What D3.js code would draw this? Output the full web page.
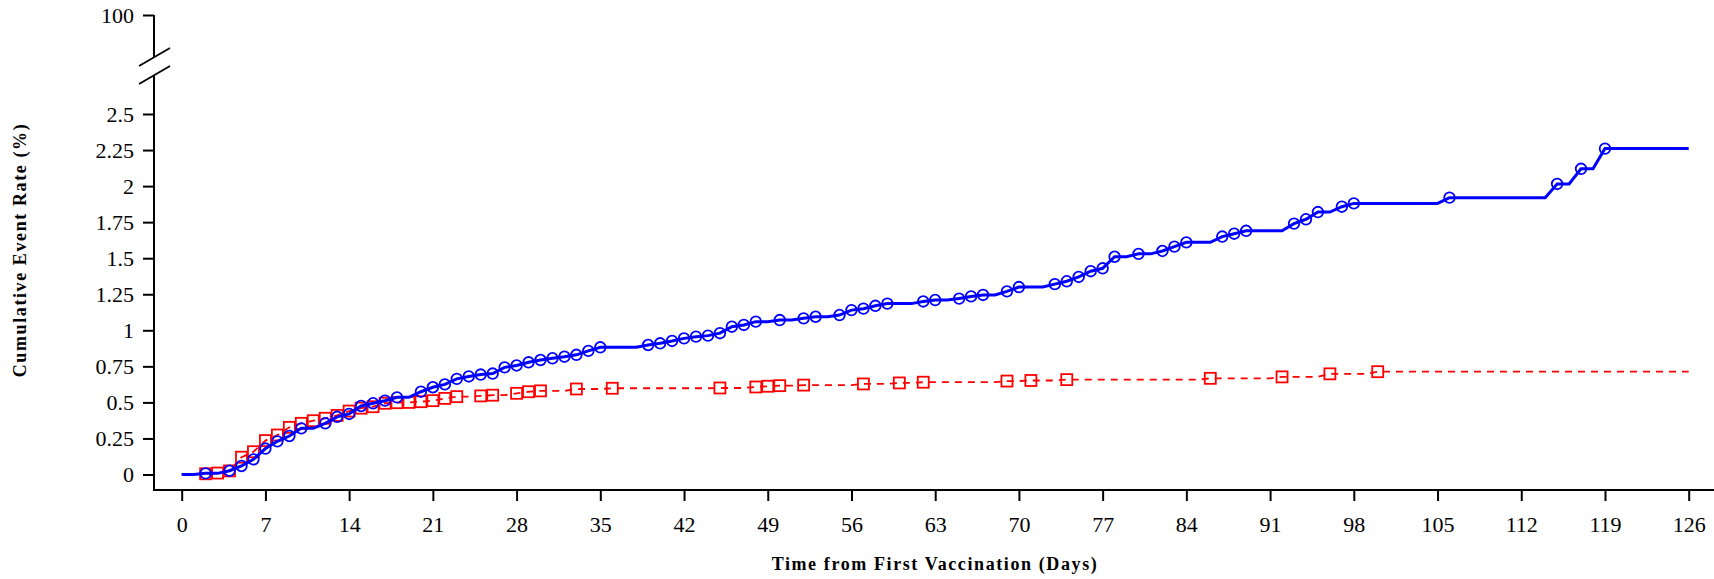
<!DOCTYPE html>
<html>
<head>
<meta charset="utf-8">
<script src="https://cdn.jsdelivr.net/npm/d3@7"></script>
<style>
    body { margin: 0; background: #fff; }
</style>
</head>
<body>
<div id="chart"></div>
<script>
// Set width and height
var svgWidth = 1714;
var svgHeight = 579;
var serif = "'Liberation Serif', 'Times New Roman', serif";

// Days of the events and cumulative rates (%) for the blue group.
var blueDays = [2, 4, 5, 6, 7, 8, 9, 10, 12, 13, 14, 15, 16, 17, 18, 20, 21, 22, 23, 24,
    25, 26, 27, 28, 29, 30, 31, 32, 33, 34, 35, 39, 40, 41, 42, 43, 44, 45, 46, 47,
    48, 50, 52, 53, 55, 56, 57, 58, 59, 62, 63, 65, 66, 67, 69, 70, 73, 74, 75, 76,
    77, 78, 80, 82, 83, 84, 87, 88, 89, 93, 94, 95, 97, 98, 106, 115, 117, 119];
var blueRates = [0.008, 0.026, 0.059, 0.105, 0.18, 0.23, 0.267, 0.32, 0.355, 0.40, 0.42, 0.475,
    0.494, 0.512, 0.535, 0.574, 0.605, 0.625, 0.663, 0.68, 0.693, 0.70, 0.743, 0.756,
    0.778, 0.794, 0.806, 0.817, 0.83, 0.857, 0.882, 0.898, 0.91, 0.926, 0.944, 0.956,
    0.963, 0.98, 1.025, 1.037, 1.06, 1.071, 1.083, 1.094, 1.106, 1.14, 1.15, 1.17,
    1.185, 1.20, 1.21, 1.22, 1.235, 1.245, 1.27, 1.30, 1.32, 1.34, 1.37, 1.41, 1.43,
    1.51, 1.53, 1.55, 1.58, 1.61, 1.65, 1.67, 1.69, 1.74, 1.77, 1.82, 1.857, 1.88,
    1.92, 2.015, 2.12, 2.26];

// Days of the events and cumulative rates (%) for the red group.
var redDays = [2, 3, 4, 5, 6, 7, 8, 9, 10, 11, 12, 13, 14, 15, 16, 17, 18, 19, 20, 21,
    22, 23, 25, 26, 28, 29, 30, 33, 36, 45, 48, 49, 50, 52, 57, 60, 62, 69, 71, 74,
    86, 92, 96, 100];
var redRates = [0.005, 0.01, 0.025, 0.12, 0.158, 0.235, 0.274, 0.327, 0.355, 0.373, 0.39,
    0.41, 0.44, 0.46, 0.47, 0.494, 0.498, 0.50, 0.505, 0.512, 0.528, 0.54, 0.545, 0.55,
    0.563, 0.574, 0.58, 0.593, 0.598, 0.60, 0.607, 0.612, 0.616, 0.62, 0.628, 0.635,
    0.64, 0.648, 0.652, 0.658, 0.667, 0.677, 0.698, 0.713];

// Last day of follow-up.
var endDay = 126;

// Tick values.
var xTicks = d3.range(0, 127, 7);
var yTicks = [0, 0.25, 0.5, 0.75, 1, 1.25, 1.5, 1.75, 2, 2.25, 2.5];
var yTopTicks = [100];

// Define margins.
var margin = {
    top: 15,
    right: 0,
    bottom: 89,
    left: 154
};
var chartWidth = svgWidth - margin.left - margin.right;
var chartHeight = svgHeight - margin.top - margin.bottom;

// Create the svg and the chart group.
var svg = d3.select("#chart")
    .append("svg")
    .attr("width", svgWidth)
    .attr("height", svgHeight);
var chartGroup = svg.append("g")
    .attr("transform", `translate(${margin.left}, ${margin.top})`);

// Scales: lower part of the y axis (0 - 2.5) and the single top value (100).
var xLinearScale = d3.scaleLinear()
    .domain([0, endDay])
    .range([27.7, 1534.7]);
var yLinearScale = d3.scaleLinear()
    .domain([0, 2.5])
    .range([459.5, 99]);
var yTopScale = d3.scaleLinear()
    .domain([99, 100])
    .range([10, 0]);

// Build the step curve: flat, then rising over the day before each event.
function stepPoints(days, rates) {
    var pts = [[0, 0]];
    var prev = 0;
    days.forEach(function(d, i) {
        pts.push([d - 1, prev]);
        pts.push([d, rates[i]]);
        prev = rates[i];
    });
    pts.push([endDay, prev]);
    return pts;
}
var line = d3.line()
    .x(d => xLinearScale(d[0]))
    .y(d => yLinearScale(d[1]));

// Red curve (dashed) with squares.
chartGroup.append("path")
    .datum(stepPoints(redDays, redRates))
    .attr("d", line)
    .attr("fill", "none")
    .attr("stroke", "#ff0000")
    .attr("stroke-width", 1.8)
    .attr("stroke-dasharray", "7,6");
chartGroup.selectAll(".redMark")
    .data(redDays)
    .enter()
    .append("rect")
    .attr("class", "redMark")
    .attr("x", d => xLinearScale(d) - 5.5)
    .attr("y", (d, i) => yLinearScale(redRates[i]) - 5.5)
    .attr("width", 11)
    .attr("height", 11)
    .attr("fill", "none")
    .attr("stroke", "#ff0000")
    .attr("stroke-width", 1.8);

// Blue curve (solid) with circles.
chartGroup.append("path")
    .datum(stepPoints(blueDays, blueRates))
    .attr("d", line)
    .attr("fill", "none")
    .attr("stroke", "#0000ff")
    .attr("stroke-width", 3);
chartGroup.selectAll(".blueMark")
    .data(blueDays)
    .enter()
    .append("circle")
    .attr("class", "blueMark")
    .attr("cx", d => xLinearScale(d))
    .attr("cy", (d, i) => yLinearScale(blueRates[i]))
    .attr("r", 5.3)
    .attr("fill", "none")
    .attr("stroke", "#0000ff")
    .attr("stroke-width", 1.8);

// Common styling for the axes.
function styleAxis(g) {
    g.attr("font-family", serif).attr("font-size", 22);
    g.select(".domain").remove();
    g.selectAll(".tick line").attr("stroke-width", 2);
    g.selectAll(".tick text")
        .style("font-family", serif)
        .style("font-size", "22px")
        .attr("fill", "#000");
}

// X axis.
var bottomAxis = d3.axisBottom(xLinearScale)
    .tickValues(xTicks)
    .tickSize(11)
    .tickPadding(15)
    .tickSizeOuter(0);
var xAxisGroup = chartGroup.append("g")
    .attr("transform", `translate(0, ${chartHeight})`)
    .call(bottomAxis)
    .call(styleAxis);
xAxisGroup.append("line")
    .attr("x1", 0)
    .attr("x2", chartWidth)
    .attr("stroke", "#000")
    .attr("stroke-width", 2);

// Y axis, lower part.
var leftAxis = d3.axisLeft(yLinearScale)
    .tickValues(yTicks)
    .tickFormat(d3.format("~g"))
    .tickSize(11)
    .tickPadding(9)
    .tickSizeOuter(0);
chartGroup.append("g").call(leftAxis).call(styleAxis);

// Y axis, top value.
var topAxis = d3.axisLeft(yTopScale)
    .tickValues(yTopTicks)
    .tickFormat(d3.format("d"))
    .tickSize(11)
    .tickPadding(9)
    .tickSizeOuter(0);
chartGroup.append("g").call(topAxis).call(styleAxis);

// Y axis line with the break.
var breakTop = 42;
var breakBottom = 60;
chartGroup.append("line")
    .attr("x1", 0).attr("x2", 0)
    .attr("y1", 0).attr("y2", breakTop)
    .attr("stroke", "#000").attr("stroke-width", 2);
chartGroup.append("line")
    .attr("x1", 0).attr("x2", 0)
    .attr("y1", breakBottom).attr("y2", chartHeight + 1)
    .attr("stroke", "#000").attr("stroke-width", 2);
[breakTop, breakBottom].forEach(function(y) {
    chartGroup.append("line")
        .attr("x1", -15).attr("y1", y + 9)
        .attr("x2", 16).attr("y2", y - 9)
        .attr("stroke", "#000").attr("stroke-width", 1.8);
});

// Axis titles.
svg.append("text")
    .attr("transform", "translate(26, 250) rotate(-90)")
    .attr("text-anchor", "middle")
    .style("font-family", serif)
    .style("font-size", "18px")
    .style("font-weight", "bold")
    .style("letter-spacing", "1.6px")
    .text("Cumulative Event Rate (%)");
svg.append("text")
    .attr("x", 935)
    .attr("y", 570)
    .attr("text-anchor", "middle")
    .style("font-family", serif)
    .style("font-size", "18px")
    .style("font-weight", "bold")
    .style("letter-spacing", "1.6px")
    .text("Time from First Vaccination (Days)");
</script>
</body>
</html>
